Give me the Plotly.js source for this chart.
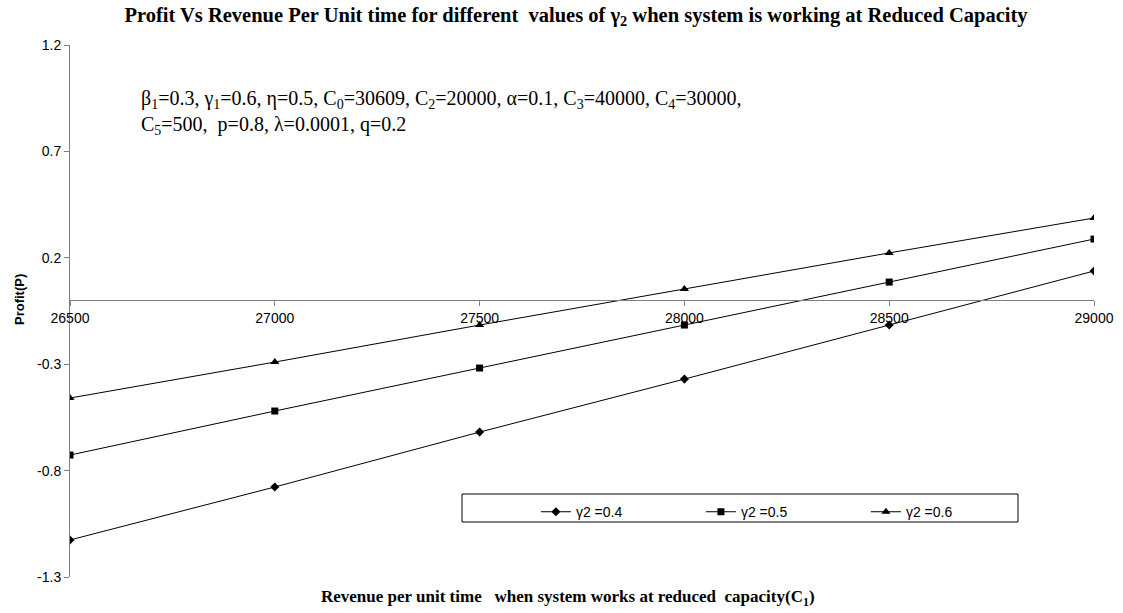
<!DOCTYPE html>
<html>
<head>
<meta charset="utf-8">
<script src="https://cdn.plot.ly/plotly-3.0.1.min.js"></script>
<style>html,body{margin:0;padding:0;background:#fff;}#chart{width:1123px;height:613px;}</style>
</head>
<body>
<div id="chart"></div>
<script>
// Revenue per unit time (C1)
var revenueC1 = [26500, 27000, 27500, 28000, 28500, 29000];
// Profit for gamma2 = 0.4, 0.5, 0.6
var profitG04 = [-1.126, -0.877, -0.619, -0.370, -0.116, 0.138];
var profitG05 = [-0.727, -0.520, -0.318, -0.116, 0.086, 0.288];
var profitG06 = [-0.459, -0.290, -0.116, 0.053, 0.223, 0.387];
var seriesNames = ['γ2 =0.4', 'γ2 =0.5', 'γ2 =0.6'];
var yTicks = [-1.3, -0.8, -0.3, 0.2, 0.7, 1.2];
var xTicks = [26500, 27000, 27500, 28000, 28500, 29000];

var serif = 'Liberation Serif, Times New Roman, serif';
var sans = 'Liberation Sans, Arial, sans-serif';

function tr(y, name, sym, size) {
  return {
    x: revenueC1, y: y, name: name, type: 'scatter', mode: 'lines+markers',
    line: {color: '#000', width: 1},
    marker: {symbol: sym, size: size, color: '#000'}
  };
}
var data = [
  tr(profitG04, seriesNames[0], 'diamond', 7),
  tr(profitG05, seriesNames[1], 'square', 7),
  tr(profitG06, seriesNames[2], 'triangle-up', 8)
];

var layout = {
  width: 1123, height: 613,
  margin: {l: 70, r: 29, t: 45, b: 36},
  paper_bgcolor: '#fff', plot_bgcolor: '#fff',
  showlegend: true,
  title: {
    text: '<b>Profit Vs Revenue Per Unit time for different  values of γ<sub>2</sub> when system is working at Reduced Capacity</b>',
    font: {family: serif, size: 20.5, color: '#000'},
    x: 576 / 1123, xanchor: 'center', y: 1 - 15 / 613, yanchor: 'middle'
  },
  xaxis: {
    range: [26500, 29000], tickvals: xTicks, ticktext: xTicks.map(String),
    anchor: 'free', position: 0.52,
    showline: true, linecolor: '#808080', linewidth: 1,
    ticks: 'outside', ticklen: 5, tickcolor: '#808080',
    showgrid: false, zeroline: false,
    tickfont: {family: sans, size: 14, color: '#000'}
  },
  yaxis: {
    range: [-1.3, 1.2], tickvals: yTicks, ticktext: yTicks.map(String),
    showline: true, linecolor: '#808080', linewidth: 1,
    ticks: 'outside', ticklen: 5, tickcolor: '#808080',
    showgrid: false, zeroline: false,
    tickfont: {family: sans, size: 14, color: '#000'}
  },
  legend: {
    orientation: 'h', x: 0.455, xanchor: 'left', y: 0.152, yanchor: 'top',
    bgcolor: 'rgba(0,0,0,0)', borderwidth: 0,
    font: {family: sans, size: 14, color: '#000'},
    entrywidth: 120, itemwidth: 30
  },
  shapes: [{
    type: 'rect', xref: 'paper', yref: 'paper',
    x0: (462 - 70) / 1024, x1: (1018 - 70) / 1024,
    y0: (577 - 522) / 532, y1: (577 - 494) / 532,
    line: {color: '#000', width: 1}, fillcolor: 'rgba(0,0,0,0)', layer: 'below'
  }],
  annotations: [
    {
      xref: 'paper', yref: 'paper', x: (139 - 70) / 1024, y: (577 - 85) / 532,
      xanchor: 'left', yanchor: 'top', align: 'left', showarrow: false,
      text: 'β<sub>1</sub>=0.3, γ<sub>1</sub>=0.6, η=0.5, C<sub>0</sub>=30609, C<sub>2</sub>=20000, α=0.1, C<sub>3</sub>=40000, C<sub>4</sub>=30000,<br>C<sub>5</sub>=500,  p=0.8, λ=0.0001, q=0.2',
      font: {family: serif, size: 20, color: '#000'}
    },
    {
      xref: 'paper', yref: 'paper', x: (568 - 70) / 1024, y: -(598 - 577) / 532,
      xanchor: 'center', yanchor: 'middle', showarrow: false,
      text: '<b>Revenue per unit time   when system works at reduced  capacity(C<sub>1</sub>)</b>',
      font: {family: serif, size: 17, color: '#000'}
    },
    {
      xref: 'paper', yref: 'paper', x: -(70 - 19) / 1024, y: (577 - 300) / 532,
      xanchor: 'center', yanchor: 'middle', showarrow: false, textangle: -90,
      text: '<b>Profit(P)</b>',
      font: {family: sans, size: 13, color: '#000'}
    }
  ]
};

Plotly.newPlot('chart', data, layout, {displayModeBar: false, staticPlot: true});
</script>
</body>
</html>
